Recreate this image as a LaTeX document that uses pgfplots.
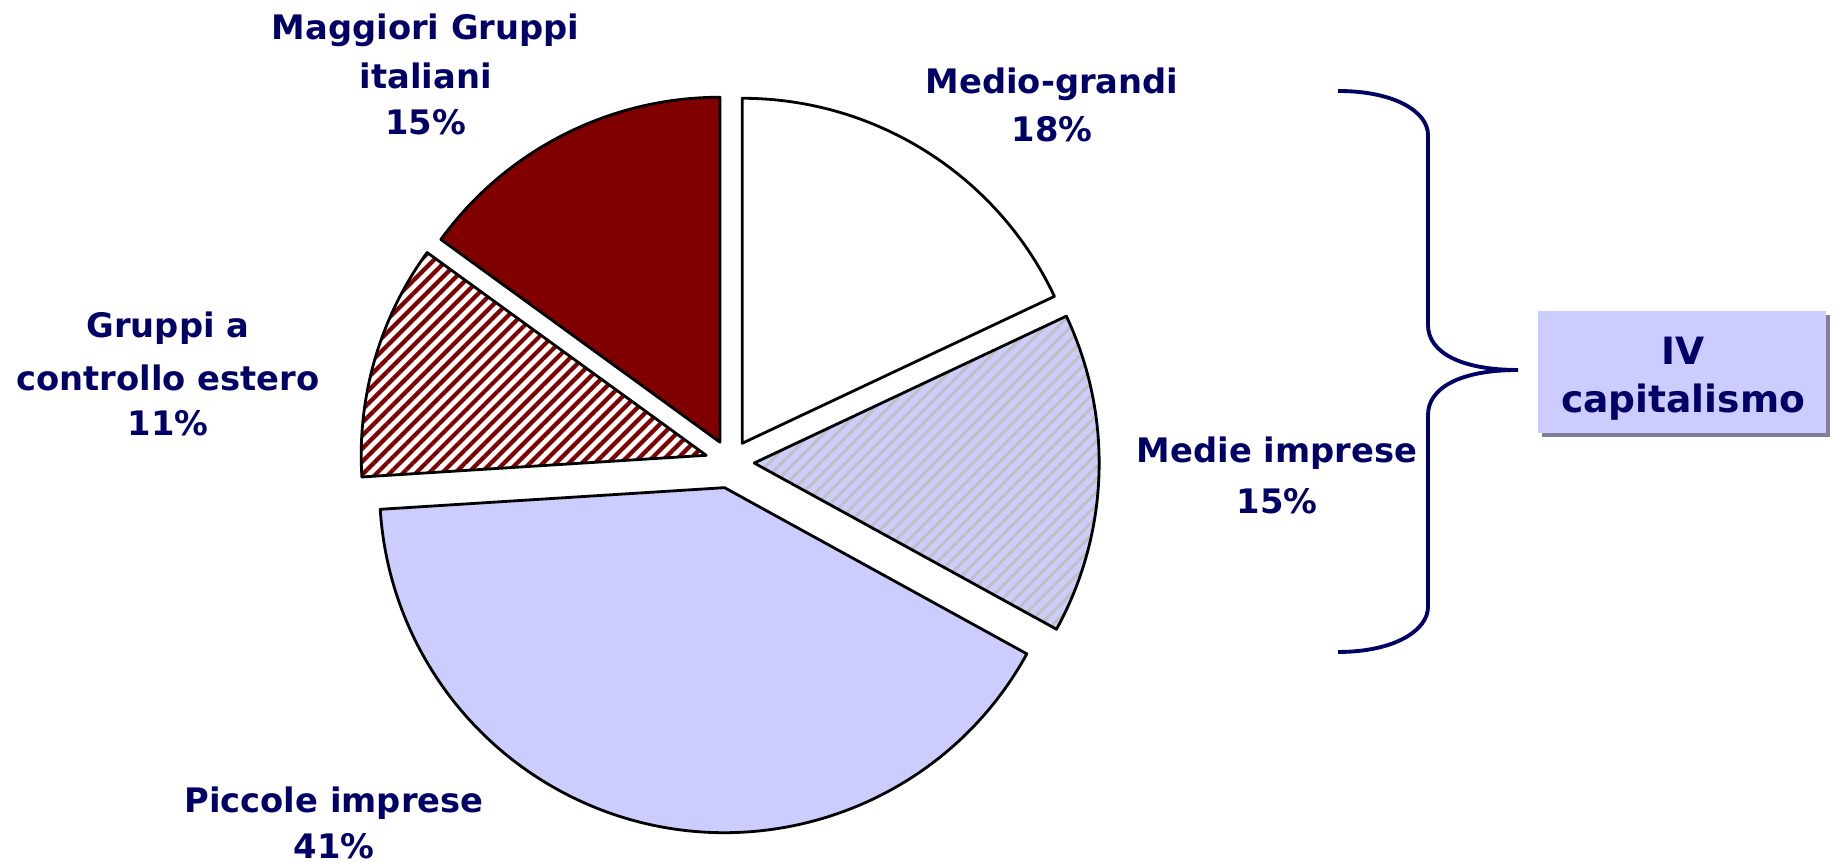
\documentclass[border=0pt]{standalone}
\usepackage{fontspec}
\setmainfont{DejaVu Sans}
\usepackage{pgfplots}
\pgfplotsset{compat=1.18}
\usetikzlibrary{patterns.meta}

\definecolor{navy}{HTML}{000066}
\definecolor{darkred}{HTML}{800000}
\definecolor{lav}{HTML}{CCCCFF}
\definecolor{stripegray}{HTML}{C0C0C0}
\definecolor{shadowgray}{HTML}{7F7F99}

% pie centre and radius in axis units (1 unit = 0.1mm)
\newcommand{\cx}{730.2}
\newcommand{\cy}{400.7}
% #1 share before this slice (%), #2 share (%), #3 explode, #4 style
\newcommand{\pieslice}[4]{%
  \path[#4] (axis cs:{\cx+#3*cos(90-3.6*(#1+#2/2))},{\cy+#3*sin(90-3.6*(#1+#2/2))})
    -- (axis cs:{\cx+#3*cos(90-3.6*(#1+#2/2))+345*cos(90-3.6*#1)},{\cy+#3*sin(90-3.6*(#1+#2/2))+345*sin(90-3.6*#1)})
    arc[start angle={90-3.6*#1}, delta angle={-3.6*#2}, radius=34.5mm] -- cycle;}

\tikzset{lab/.style={text=navy,font=\fontsize{9.6}{12}\selectfont\bfseries,anchor=base},
  edge/.style={draw=black,line width=0.8pt,line join=round}}

\begin{document}
\begin{tikzpicture}
\begin{axis}[name=ax,x=0.1mm,y=0.1mm,xmin=0,xmax=1839,ymin=0,ymax=863,hide axis,clip=false]
% slices: Medio-grandi 18, Medie imprese 15, Piccole imprese 41, Gruppi a controllo estero 11, Maggiori Gruppi 15
\pieslice{0}{18}{22.5}{edge,fill=white}
\pieslice{18}{15}{24}{edge,preaction={fill=lav},pattern={Lines[angle=45,distance=0.9mm,line width=0.3mm]},pattern color=stripegray}
\pieslice{33}{41}{26}{edge,fill=lav}
\pieslice{74}{11}{25}{edge,preaction={fill=white},pattern={Lines[angle=45,distance=0.92mm,line width=0.42mm]},pattern color=darkred}
\pieslice{85}{15}{22.5}{edge,fill=darkred}

% labels
\node[lab] at (axis cs:425.7,823.7) {Maggiori Gruppi};
\node[lab] at (axis cs:425.7,774.7) {italiani};
\node[lab] at (axis cs:425.7,728) {15\%};
\node[lab] at (axis cs:1052,769) {Medio-grandi};
\node[lab] at (axis cs:1052,721) {18\%};
\node[lab] at (axis cs:168,525) {Gruppi a};
\node[lab] at (axis cs:168,472.5) {controllo estero};
\node[lab] at (axis cs:168,427) {11\%};
\node[lab] at (axis cs:1277,400) {Medie imprese};
\node[lab] at (axis cs:1277,349) {15\%};
\node[lab] at (axis cs:334,50) {Piccole imprese};
\node[lab] at (axis cs:334,4.5) {41\%};

% brace
\draw[navy,line width=1.1pt] (axis cs:1338,772) .. controls (axis cs:1395,772) and (axis cs:1428,751) .. (axis cs:1428,728)
  -- (axis cs:1428,538) .. controls (axis cs:1428,511) and (axis cs:1460,493) .. (axis cs:1518,493)
  .. controls (axis cs:1460,493) and (axis cs:1428,475) .. (axis cs:1428,448)
  -- (axis cs:1428,256) .. controls (axis cs:1428,233) and (axis cs:1395,211) .. (axis cs:1338,211);

% box
\fill[shadowgray] (axis cs:1542,426) rectangle (axis cs:1830,548.3);
\fill[lav] (axis cs:1538,430) rectangle (axis cs:1826,552.3);
\node[text=navy,font=\fontsize{10.7}{13}\selectfont\bfseries,anchor=base] at (axis cs:1683,498) {IV};
\node[text=navy,font=\fontsize{10.7}{13}\selectfont\bfseries,anchor=base] at (axis cs:1683,450) {capitalismo};
\end{axis}
\pgfresetboundingbox
\path[use as bounding box] (ax.south west) rectangle (ax.north east);
\end{tikzpicture}
\end{document}
